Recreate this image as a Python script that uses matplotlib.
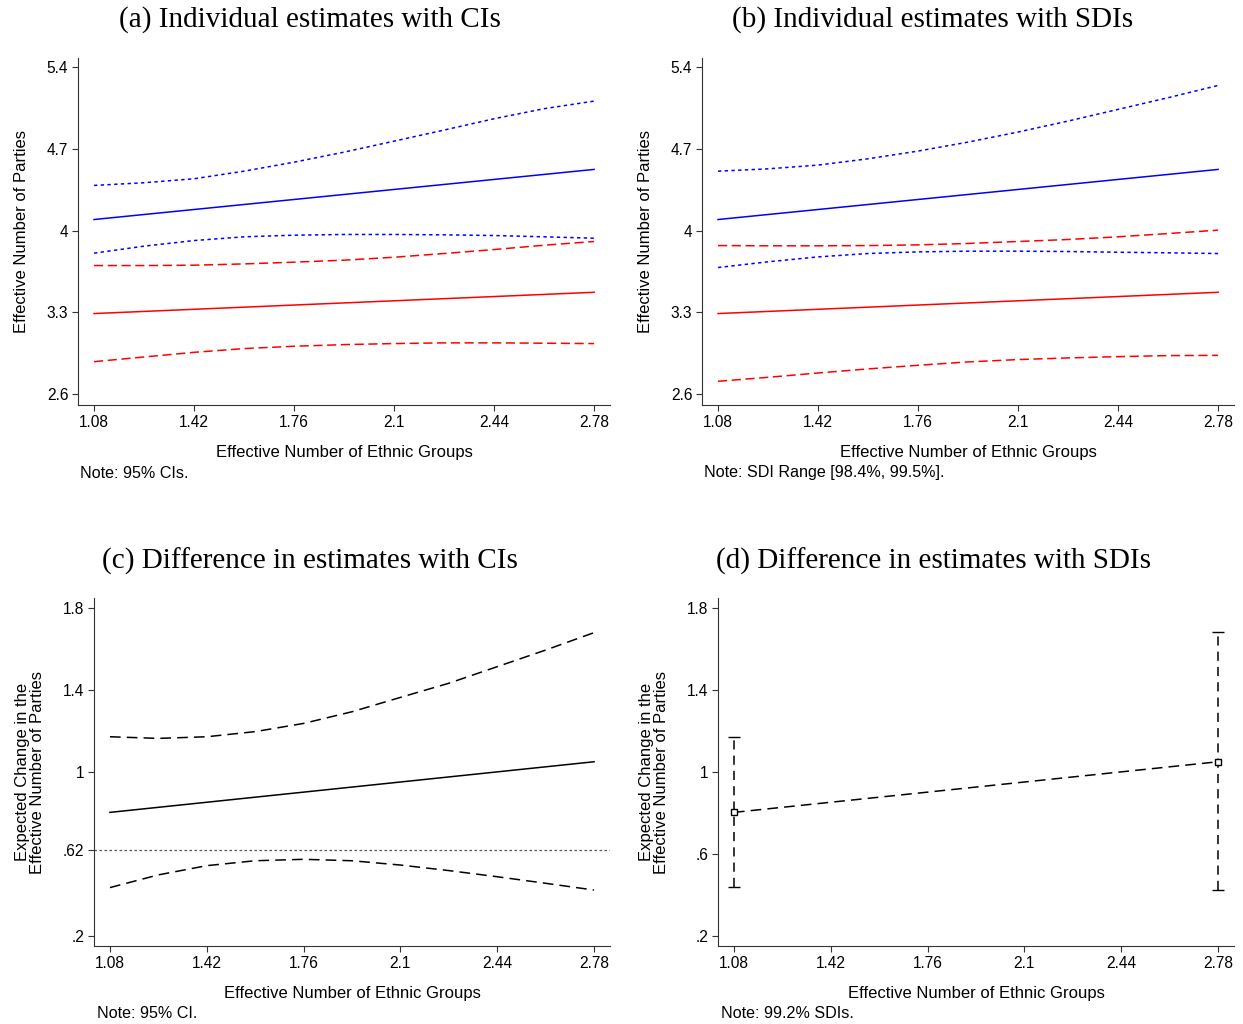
import matplotlib
matplotlib.use("Agg")
import matplotlib.pyplot as plt

plt.rcParams['font.family'] = ['Liberation Sans', 'DejaVu Sans']

# Data
x_grid = [1.08, 1.25, 1.42, 1.59, 1.76, 1.93, 2.1, 2.27, 2.44, 2.61, 2.78]
x_end = [1.08, 2.78]
x_ticks = [1.08, 1.42, 1.76, 2.1, 2.44, 2.78]
x_ticklabels = ['1.08', '1.42', '1.76', '2.1', '2.44', '2.78']

# panels (a) and (b): predicted values (straight lines)
blue_est = [4.094, 4.523]
red_est = [3.289, 3.471]

a_blue_hi = [4.386, 4.409, 4.443, 4.508, 4.585, 4.671, 4.765, 4.860, 4.957, 5.043, 5.108]
a_blue_lo = [3.806, 3.866, 3.914, 3.946, 3.960, 3.966, 3.966, 3.963, 3.957, 3.946, 3.934]
a_red_hi = [3.700, 3.700, 3.703, 3.714, 3.729, 3.746, 3.771, 3.803, 3.837, 3.874, 3.906]
a_red_lo = [2.877, 2.917, 2.957, 2.989, 3.009, 3.023, 3.032, 3.038, 3.038, 3.035, 3.032]

b_blue_hi = [4.508, 4.528, 4.560, 4.614, 4.680, 4.757, 4.843, 4.937, 5.037, 5.137, 5.242]
b_blue_lo = [3.683, 3.732, 3.774, 3.803, 3.817, 3.823, 3.823, 3.820, 3.814, 3.809, 3.803]
b_red_hi = [3.871, 3.869, 3.869, 3.871, 3.877, 3.889, 3.906, 3.923, 3.946, 3.974, 4.003]
b_red_lo = [2.709, 2.743, 2.780, 2.815, 2.846, 2.875, 2.895, 2.909, 2.920, 2.929, 2.931]

ab_yticks = [2.6, 3.3, 4.0, 4.7, 5.4]
ab_yticklabels = ['2.6', '3.3', '4', '4.7', '5.4']

# panel (c): difference with CIs
diff_est = [0.803, 1.050]
diff_hi = [1.172, 1.164, 1.172, 1.197, 1.237, 1.294, 1.364, 1.433, 1.514, 1.595, 1.680]
diff_lo = [0.436, 0.498, 0.543, 0.567, 0.574, 0.567, 0.546, 0.519, 0.489, 0.457, 0.424]
diff_ref = 0.62
c_yticks = [0.2, 0.62, 1.0, 1.4, 1.8]
c_yticklabels = ['.2', '.62', '1', '1.4', '1.8']

# panel (d): difference at the ends with SDIs
d_x = [1.08, 2.78]
d_est = [0.803, 1.050]
d_hi = [1.171, 1.683]
d_lo = [0.439, 0.424]
d_yticks = [0.2, 0.6, 1.0, 1.4, 1.8]
d_yticklabels = ['.2', '.6', '1', '1.4', '1.8']

W, H = 1243, 1024
fig = plt.figure(figsize=(W / 100, H / 100), dpi=100)


def px_axes(left, top, right, bottom):
    return fig.add_axes([left / W, 1 - bottom / H, (right - left) / W, (bottom - top) / H])


def style(ax, xlim, ylim, yticks, yticklabels):
    ax.set_xlim(*xlim)
    ax.set_ylim(*ylim)
    ax.spines['top'].set_visible(False)
    ax.spines['right'].set_visible(False)
    ax.spines['left'].set_color('#333333')
    ax.spines['bottom'].set_color('#333333')
    ax.set_xticks(x_ticks)
    ax.set_xticklabels(x_ticklabels)
    ax.set_yticks(yticks)
    ax.set_yticklabels(yticklabels)
    ax.tick_params(direction='out', length=4, width=0.8, labelsize=11.2, pad=3, colors='#333333',
                   labelcolor='black')


dot = (0, (2.2, 2.2))
dash = (0, (6, 3))
lw = 1.1
lab = 12

# (a)
ax = px_axes(78, 58, 610, 405)
ax.plot(x_end, blue_est, color='blue', lw=lw)
ax.plot(x_grid, a_blue_hi, color='blue', lw=lw, linestyle=dot)
ax.plot(x_grid, a_blue_lo, color='blue', lw=lw, linestyle=dot)
ax.plot(x_end, red_est, color='red', lw=lw)
ax.plot(x_grid, a_red_hi, color='red', lw=lw, linestyle=dash)
ax.plot(x_grid, a_red_lo, color='red', lw=lw, linestyle=dash)
style(ax, (1.0256, 2.834), (2.506, 5.477), ab_yticks, ab_yticklabels)
ax.set_ylabel('Effective Number of Parties', fontsize=lab, labelpad=13)
ax.set_xlabel('Effective Number of Ethnic Groups', fontsize=lab, labelpad=11)

# (b)
ax = px_axes(702, 58, 1234, 405)
ax.plot(x_end, blue_est, color='blue', lw=lw)
ax.plot(x_grid, b_blue_hi, color='blue', lw=lw, linestyle=dot)
ax.plot(x_grid, b_blue_lo, color='blue', lw=lw, linestyle=dot)
ax.plot(x_end, red_est, color='red', lw=lw)
ax.plot(x_grid, b_red_hi, color='red', lw=lw, linestyle=dash)
ax.plot(x_grid, b_red_lo, color='red', lw=lw, linestyle=dash)
style(ax, (1.0256, 2.834), (2.506, 5.477), ab_yticks, ab_yticklabels)
ax.set_ylabel('Effective Number of Parties', fontsize=lab, labelpad=13)
ax.set_xlabel('Effective Number of Ethnic Groups', fontsize=lab, labelpad=11)

# (c)
ax = px_axes(94, 598, 610, 946)
ax.axhline(diff_ref, color='#555555', lw=0.9, linestyle=(0, (2, 2)))
ax.plot(x_end, diff_est, color='black', lw=lw)
ax.plot(x_grid, diff_hi, color='black', lw=lw, linestyle=(0, (7, 4)))
ax.plot(x_grid, diff_lo, color='black', lw=lw, linestyle=(0, (7, 4)))
style(ax, (1.024, 2.836), (0.151, 1.849), c_yticks, c_yticklabels)
ax.set_ylabel('Expected Change in the\nEffective Number of Parties', fontsize=lab,
              labelpad=13, linespacing=0.95)
ax.set_xlabel('Effective Number of Ethnic Groups', fontsize=lab, labelpad=11)

# (d)
ax = px_axes(718, 598, 1234, 946)
yerr = [[e - l for e, l in zip(d_est, d_lo)], [h - e for e, h in zip(d_est, d_hi)]]
cont = ax.errorbar(d_x, d_est, yerr=yerr, color='black', lw=lw, linestyle=(0, (7, 4)),
                   elinewidth=lw, capsize=4, capthick=lw, marker='s', markersize=4.5,
                   markerfacecolor='white', markeredgecolor='black', markeredgewidth=1)
for lc in cont[2]:
    lc.set_linestyle((0, (6, 4)))
style(ax, (1.024, 2.836), (0.151, 1.849), d_yticks, d_yticklabels)
ax.set_ylabel('Expected Change in the\nEffective Number of Parties', fontsize=lab,
              labelpad=13, linespacing=0.95)
ax.set_xlabel('Effective Number of Ethnic Groups', fontsize=lab, labelpad=11)

# titles and notes
tfont = dict(family=['Liberation Serif', 'DejaVu Serif'], fontsize=21, ha='center', va='center')
fig.text(310 / W, 1 - 20 / H, '(a) Individual estimates with CIs', **tfont)
fig.text(933 / W, 1 - 20 / H, '(b) Individual estimates with SDIs', **tfont)
fig.text(310 / W, 1 - 561 / H, '(c) Difference in estimates with CIs', **tfont)
fig.text(934 / W, 1 - 561 / H, '(d) Difference in estimates with SDIs', **tfont)

nfont = dict(fontsize=11.6, ha='left', va='center')
fig.text(80 / W, 1 - 473 / H, 'Note: 95% CIs.', **nfont)
fig.text(704 / W, 1 - 473 / H, 'Note: SDI Range [98.4%, 99.5%].', **nfont)
fig.text(97 / W, 1 - 1014 / H, 'Note: 95% CI.', **nfont)
fig.text(721 / W, 1 - 1014 / H, 'Note: 99.2% SDIs.', **nfont)

fig.savefig('out.png', dpi=100)
